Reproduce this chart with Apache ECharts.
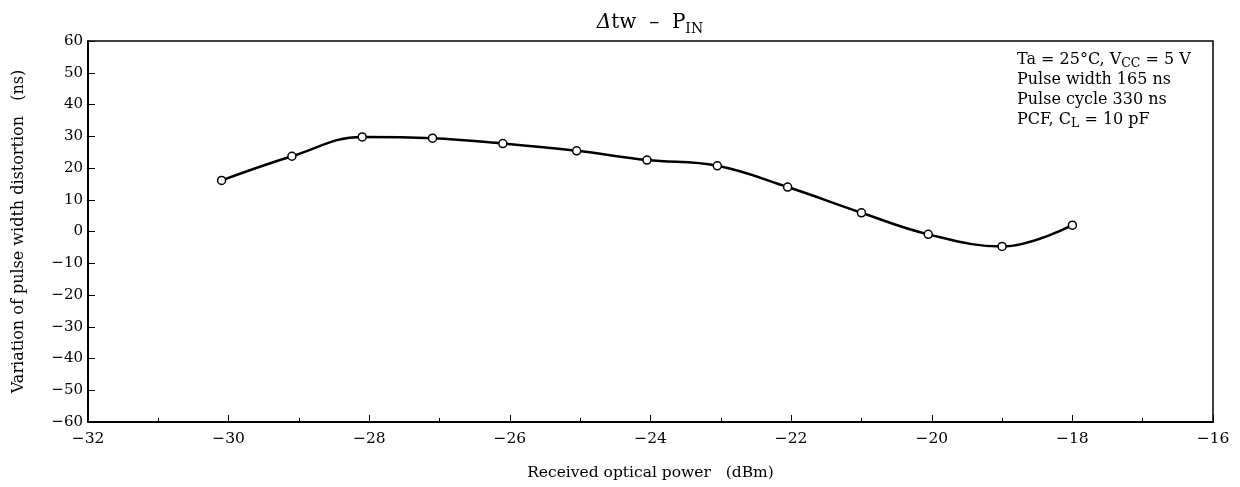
<!DOCTYPE html>
<html><head><meta charset="utf-8">
<script src="https://cdn.jsdelivr.net/npm/echarts@6/dist/echarts.min.js"></script>
<style>html,body{margin:0;padding:0;background:#fff}#c{width:1240px;height:487px}</style>
</head><body><div id="c"></div>
<script>
const powerDbm = [-30.1, -29.1, -28.1, -27.1, -26.1, -25.05, -24.05, -23.05, -22.05, -21.0, -20.05, -19.0, -18.0];
const distortionNs = [16.1, 23.7, 29.8, 29.4, 27.7, 25.4, 22.5, 20.7, 14.0, 5.9, -0.9, -4.7, 2.0];
const xTicks = {min: -32, max: -16, step: 2};
const yTicks = {min: -60, max: 60, step: 10};

const FONT = 'DejaVu Serif';
const chart = echarts.init(document.getElementById('c'));
const fmt = v => String(v).replace('-', '\u2212');
chart.setOption({
  animation: false,
  backgroundColor: '#fff',
  textStyle: {fontFamily: FONT, color: '#000'},
  title: {
    text: '{d|\u0394}{n|tw  \u2013  P}{s|IN}',
    left: 645, top: 8, textAlign: 'center',
    textStyle: {
      fontFamily: FONT, fontWeight: 'normal',
      rich: {
        d: {fontFamily: FONT, fontSize: 20, fontStyle: 'italic', fontWeight: 'normal', color: '#000', verticalAlign: 'top', lineHeight: 24},
        n: {fontFamily: FONT, fontSize: 20, fontWeight: 'normal', color: '#000', verticalAlign: 'top', lineHeight: 24},
        s: {fontFamily: FONT, fontSize: 14, fontWeight: 'normal', color: '#000', verticalAlign: 'top', padding: [9, 0, 0, 0], lineHeight: 24}
      }
    }
  },
  grid: {left: 88, right: 27, top: 41, bottom: 65, show: true, borderColor: '#000', borderWidth: 1.5, backgroundColor: 'transparent'},
  xAxis: {
    type: 'value', min: xTicks.min, max: xTicks.max, interval: xTicks.step,
    name: 'Received optical power   (dBm)', nameLocation: 'middle', nameGap: 43,
    nameTextStyle: {fontFamily: FONT, fontSize: 15.5, color: '#000'},
    axisLine: {onZero: false, lineStyle: {color: '#000', width: 2}},
    axisTick: {inside: true, length: 7, lineStyle: {color: '#000', width: 1}},
    minorTick: {show: true, splitNumber: 2, length: 4, lineStyle: {color: '#000'}},
    splitLine: {show: false},
    axisLabel: {formatter: fmt, fontFamily: FONT, fontSize: 15.5, color: '#000', margin: 9}
  },
  yAxis: {
    type: 'value', min: yTicks.min, max: yTicks.max, interval: yTicks.step,
    name: 'Variation of pulse width distortion   (ns)', nameLocation: 'middle', nameGap: 61, nameRotate: 90,
    nameTextStyle: {fontFamily: FONT, fontSize: 16, color: '#000'},
    axisLine: {onZero: false, lineStyle: {color: '#000', width: 2}},
    axisTick: {inside: true, length: 7, lineStyle: {color: '#000', width: 1}},
    splitLine: {show: false},
    axisLabel: {formatter: fmt, fontFamily: FONT, fontSize: 15, color: '#000', margin: 5}
  },
  graphic: [{
    type: 'text', left: 1017, top: 50,
    style: {
      text: 'Ta = 25\u00b0C, V{s|CC} = 5 V\nPulse width 165 ns\nPulse cycle 330 ns\nPCF, C{s|L} = 10 pF',
      fontFamily: FONT, fontSize: 16, fill: '#000', lineHeight: 20,
      rich: {s: {fontFamily: FONT, fontSize: 12.5, fill: '#000', verticalAlign: 'top', padding: [7, 0, 0, 0], lineHeight: 20}}
    }
  }],
  series: [{
    type: 'line',
    data: powerDbm.map((x, i) => [x, distortionNs[i]]),
    smooth: 0.4,
    symbol: 'circle', symbolSize: 8,
    lineStyle: {color: '#000', width: 2.5},
    itemStyle: {color: '#fff', borderColor: '#000', borderWidth: 1.5},
    z: 3
  }]
});
</script></body></html>
